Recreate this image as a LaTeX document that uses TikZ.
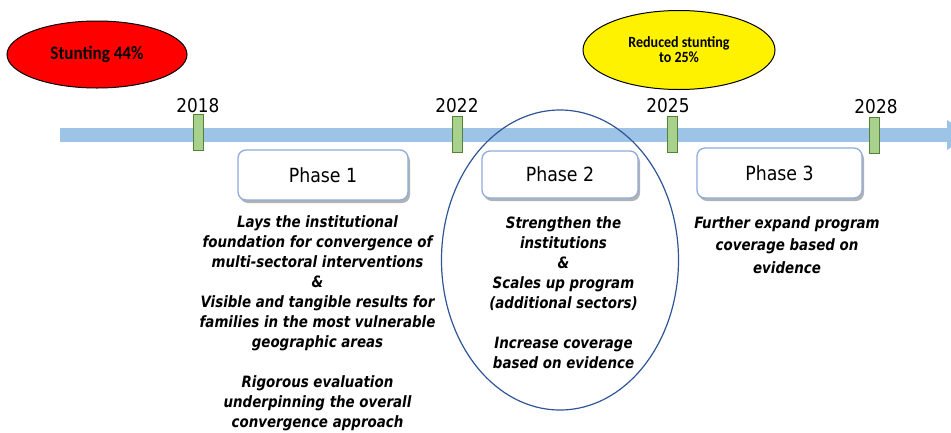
\documentclass[tikz,border=0pt]{standalone}
\usepackage{fontspec}
\setmainfont{DejaVu Sans}[FakeStretch=0.89]
\newfontfamily\notefont{DejaVu Sans Bold Oblique}[FakeStretch=0.86]
\newfontfamily\calfont{Carlito Bold}[FakeStretch=0.9]
\usetikzlibrary{shapes.geometric,shadows}

\definecolor{barblue}{HTML}{9DC3E6}
\definecolor{tickfill}{HTML}{A9D18E}
\definecolor{tickline}{HTML}{548235}
\definecolor{boxline}{HTML}{8FAADC}
\definecolor{ringblue}{HTML}{2F5597}

\begin{document}
\begin{tikzpicture}[x=1pt,y=-1pt,
  yearlbl/.style={font=\fontsize{19}{19}\selectfont, inner sep=0pt, anchor=base},
  tickmark/.style={draw=tickline, fill=tickfill, line width=1pt,
    minimum width=10pt, minimum height=36pt, inner sep=0pt},
  phasebox/.style={draw=boxline, fill=white, line width=1.3pt, rounded corners=8pt,
    inner sep=0pt, font=\fontsize{19.5}{20}\selectfont,
    drop shadow={shadow xshift=2pt, shadow yshift=-3pt, fill=black, opacity=0.3}},
  note/.style={font=\notefont\fontsize{15.6}{20}\selectfont,
    align=center, inner sep=0pt, anchor=north},
  goal/.style={ellipse, draw=black, line width=1pt, inner sep=0pt}
]
\clip (0,0) rectangle (951,432);

% timeline bar with arrow head
\fill[barblue] (60,128) rectangle (947,142);
\fill[barblue] (947,120) -- (970,135) -- (947,150) -- cycle;

% milestone ticks and years
\node[tickmark] (t2018) at (198,132) {};
\node[tickmark] (t2022) at (457,134.5) {};
\node[tickmark] (t2025) at (672,134.5) {};
\node[tickmark] (t2028) at (874,135) {};
\node[yearlbl] (y2018) at (198,112.3) {2018};
\node[yearlbl] (y2022) at (457,112.7) {2022};
\node[yearlbl] (y2025) at (668,112.3) {2025};
\node[yearlbl] (y2028) at (876,113.3) {2028};

% stunting goals
\node[goal, fill=red, minimum width=180pt, minimum height=67pt,
  font=\calfont\fontsize{19}{19}\selectfont] (start) at (97,54.5)
  {\raisebox{1.5pt}{Stunting 44\%}};
\node[goal, fill=yellow, minimum width=192pt, minimum height=79pt, align=center,
  font=\calfont\fontsize{15.6}{15}\selectfont] (target) at (679,50)
  {Reduced stunting\\to 25\%};

% ring around the second phase
\node[ellipse, draw=ringblue, line width=1.2pt, minimum width=237pt,
  minimum height=300pt, inner sep=0pt] (ring) at (560,260) {};

% phases
\node[phasebox, minimum width=170pt, minimum height=50pt] (p1) at (323,175) {Phase 1};
\node[phasebox, minimum width=156pt, minimum height=47pt] (p2) at (560,174.5) {Phase 2};
\node[phasebox, minimum width=165pt, minimum height=50pt] (p3) at (779.5,173) {Phase 3};

% phase descriptions
\node[note] (n1) at (317.5,215) {Lays the institutional\\foundation for convergence of\\multi-sectoral interventions\\\&\\Visible and tangible results for\\families in the most vulnerable\\geographic areas\\[20pt]Rigorous evaluation\\underpinning the overall\\convergence approach};
\node[note] (n2) at (563.5,216) {Strengthen the\\institutions\\\&\\Scales up program\\(additional sectors)\\[20pt]Increase coverage\\based on evidence};
\node[note, font=\notefont\fontsize{15.6}{22.5}\selectfont] (n3) at (787,216)
  {Further expand program\\coverage based on\\evidence};
\end{tikzpicture}
\end{document}
